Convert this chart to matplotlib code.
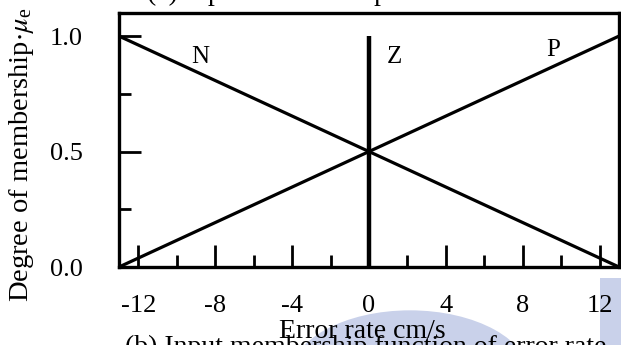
import numpy as np
import matplotlib
matplotlib.use("Agg")
import matplotlib.pyplot as plt
from matplotlib.patches import Circle, Rectangle

plt.rcParams['font.family'] = ['Liberation Serif', 'DejaVu Serif']
plt.rcParams['mathtext.fontset'] = 'stix'

# membership functions for the error rate input
n_x = [-13, 13]
n_mu = [1.0, 0.0]
z_x = [0, 0]
z_mu = [0.0, 1.0]
p_x = [-13, 13]
p_mu = [0.0, 1.0]

labels = ['N', 'Z', 'P']
label_x = [-8.8, 1.3, 9.6]
label_y = [0.91, 0.91, 0.94]

xticks = [-12, -8, -4, 0, 4, 8, 12]
xminor = [-10, -6, -2, 2, 6, 10]
yticks = [0.0, 0.5, 1.0]
yminor = [0.25, 0.75]

W, H = 621, 345
fig = plt.figure(figsize=(W / 100, H / 100), dpi=100)

# pale logo disc behind the lower part of the page
disc_col = '#c9d1ea'
fig.patches.append(Circle((410 / W, 1 - 377 / H), 120 / W, transform=fig.transFigure,
                          facecolor=disc_col, edgecolor='none', zorder=-5))
fig.patches.append(Rectangle((600 / W, 0), 21 / W, 1 - 278 / H, transform=fig.transFigure,
                             facecolor=disc_col, edgecolor='none', zorder=-5))

ax = fig.add_axes([119 / W, 1 - 267 / H, 500 / W, 254 / H])
ax.set_facecolor('white')

ax.plot(n_x, n_mu, color='black', lw=2.3, solid_capstyle='butt')
ax.plot(p_x, p_mu, color='black', lw=2.3, solid_capstyle='butt')
ax.plot(z_x, z_mu, color='black', lw=3.2, solid_capstyle='butt')

for t, lx, ly in zip(labels, label_x, label_y):
    ax.text(lx, ly, t, fontsize=18, ha='center', va='center')

ax.set_xlim(-13, 13)
ax.set_ylim(0, 1.1)
ax.set_xticks(xticks)
ax.set_xticks(xminor, minor=True)
ax.set_yticks(yticks)
ax.set_yticks(yminor, minor=True)
ax.set_xticklabels([str(v) for v in xticks])
ax.set_yticklabels(['%.1f' % v for v in yticks])

for s in ax.spines.values():
    s.set_linewidth(2.4)
ax.tick_params(which='major', direction='in', length=16, width=2.0,
               labelsize=19, pad=20)
ax.tick_params(axis='y', which='major', pad=26)
ax.tick_params(which='minor', direction='in', length=8.5, width=2.0)

# axis titles
fig.text(362 / W, 1 - 331 / H, 'Error rate cm/s', fontsize=20,
         ha='center', va='center')
fig.text(22 / W, 1 - 155 / H, r'Degree of membership$\cdot\mu_\mathregular{e}$',
         fontsize=20.5, rotation=90, ha='center', va='center')

# neighbouring sub-figure captions, cut by the page edge
fig.text(147 / W, 1.0, '(a) Input membership function of error',
         fontsize=20, ha='left', va='baseline')
fig.text(125 / W, 1 - 354 / H, '(b) Input membership function of error rate',
         fontsize=20, ha='left', va='baseline')

fig.savefig('out.png', dpi=100)
